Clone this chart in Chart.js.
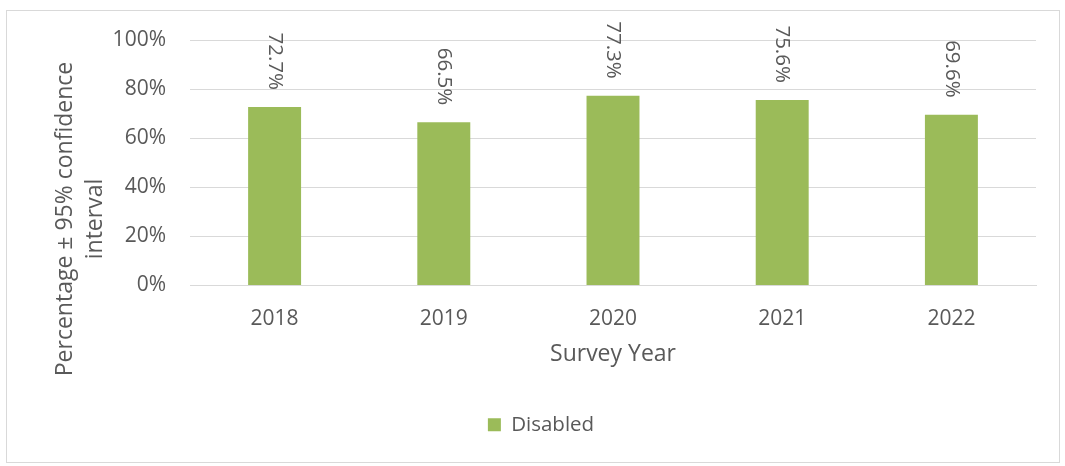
<!DOCTYPE html>
<html>
<head>
<meta charset="utf-8">
<script src="https://cdn.jsdelivr.net/npm/chart.js@4/dist/chart.umd.min.js"></script>
<style>
  html, body { margin: 0; padding: 0; background: #ffffff; }
  canvas { display: block; }
</style>
</head>
<body>
<canvas id="c" width="1065" height="466"></canvas>
<script>
// ---- data ----
const years = ['2018', '2019', '2020', '2021', '2022'];
const disabled = [72.7, 66.5, 77.3, 75.6, 69.6];
const seriesName = 'Disabled';
const yTickValues = [0, 20, 40, 60, 80, 100];
const xAxisTitle = 'Survey Year';
const yAxisTitle = ['Percentage \u00b1 95% confidence', 'interval'];

const FONT = '"Open Sans", "DejaVu Sans", sans-serif';
const TEXT = '#595959';
const GRID = '#d9d9d9';
const GREEN = '#9bbb59';

const frame = {
  id: 'frame',
  beforeDraw(chart) {
    const ctx = chart.ctx;
    ctx.save();
    ctx.fillStyle = '#ffffff';
    ctx.fillRect(0, 0, chart.width, chart.height);
    ctx.strokeStyle = GRID;
    ctx.lineWidth = 1;
    ctx.strokeRect(6.5, 10.5, 1053, 452);
    ctx.restore();
  }
};

const yTitle = {
  id: 'yTitle',
  afterDraw(chart) {
    const ctx = chart.ctx;
    ctx.save();
    ctx.fillStyle = TEXT;
    ctx.font = '23px ' + FONT;
    ctx.textAlign = 'center';
    ctx.textBaseline = 'middle';
    const xs = [65, 95];
    yAxisTitle.forEach((line, i) => {
      ctx.save();
      ctx.translate(xs[i], 219);
      ctx.rotate(-Math.PI / 2);
      ctx.fillText(line, 0, 0);
      ctx.restore();
    });
    ctx.restore();
  }
};

const barLabels = {
  id: 'barLabels',
  afterDatasetsDraw(chart) {
    const ctx = chart.ctx;
    const meta = chart.getDatasetMeta(0);
    ctx.save();
    ctx.fillStyle = TEXT;
    ctx.font = '20.5px ' + FONT;
    ctx.textAlign = 'right';
    ctx.textBaseline = 'middle';
    meta.data.forEach((bar, i) => {
      ctx.save();
      ctx.translate(bar.x, bar.y - 17);
      ctx.rotate(Math.PI / 2);
      ctx.fillText(disabled[i].toFixed(1) + '%', 0, 0);
      ctx.restore();
    });
    ctx.restore();
  }
};

new Chart(document.getElementById('c'), {
  type: 'bar',
  data: {
    labels: years,
    datasets: [{
      label: seriesName,
      data: disabled,
      backgroundColor: GREEN,
      borderWidth: 0,
      categoryPercentage: 1,
      barPercentage: 0.313
    }]
  },
  options: {
    responsive: false,
    animation: false,
    devicePixelRatio: 1,
    layout: { padding: { left: 46, right: 29, top: 40, bottom: 21 } },
    plugins: {
      legend: {
        position: 'bottom',
        labels: {
          boxWidth: 13,
          boxHeight: 13,
          padding: 10,
          color: TEXT,
          font: { family: FONT, size: 20.5 }
        }
      },
      tooltip: { enabled: false }
    },
    scales: {
      x: {
        grid: { display: false },
        border: { display: true, color: GRID, width: 1 },
        ticks: { color: TEXT, font: { family: FONT, size: 21 }, padding: 13, maxRotation: 0 },
        title: {
          display: true,
          text: xAxisTitle,
          color: TEXT,
          font: { family: FONT, size: 23 },
          padding: { top: 0, bottom: 36 }
        },
        afterFit(scale) { scale.height = 119; }
      },
      y: {
        min: 0,
        max: 100,
        grid: { color: GRID, lineWidth: 1, drawTicks: false },
        border: { display: false },
        afterBuildTicks(scale) { scale.ticks = yTickValues.map(v => ({ value: v })); },
        ticks: {
          color: TEXT,
          font: { family: FONT, size: 21 },
          padding: 24,
          callback: v => v + '%'
        },
        afterFit(scale) { scale.width = 144; }
      }
    }
  },
  plugins: [frame, yTitle, barLabels]
});
</script>
</body>
</html>
